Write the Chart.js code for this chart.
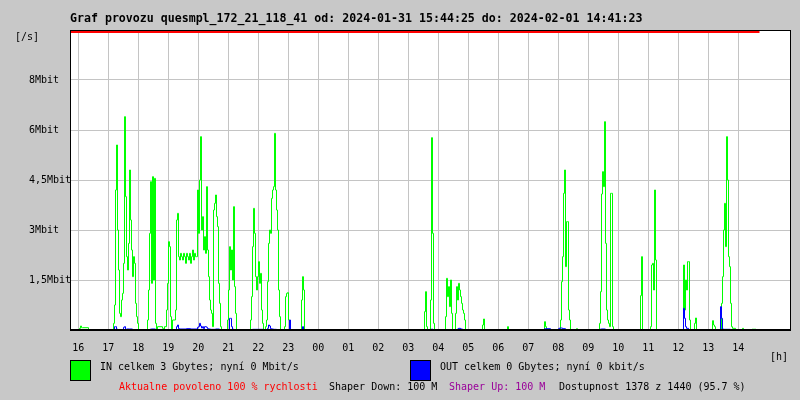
<!DOCTYPE html>
<html lang="cs">
<head>
    <meta charset="UTF-8">
    <title>Graf provozu</title>
    <script src="https://cdn.jsdelivr.net/npm/chart.js"></script>
    <style>
        body { margin: 0; background: #c8c8c8; }
    </style>
</head>
<body>
    <canvas id="traffic-chart" width="800" height="400"></canvas>

    <script>
        // casova osa: minuty od 15:44:25, vzorek 2 minuty
        const hourLabels = ['16', '17', '18', '19', '20', '21', '22', '23', '00', '01', '02', '03',
                            '04', '05', '06', '07', '08', '09', '10', '11', '12', '13', '14'];
        const firstHourMinute = 15.58; // 16:00:00
        const yTickValues = [0, 1.5, 3, 4.5, 6, 7.5, 9];
        const yTickLabels = ['', '1,5Mbit', '3Mbit', '4,5Mbit', '6Mbit', '8Mbit', ''];

        // IN [Mbit/s]
        const inMinutes = [
            0, 18, 20, 22, 24, 36, 38,
            86, 88, 90, 92, 94, 96, 98, 100, 102, 104, 106, 108, 110, 112, 114, 116, 118, 120, 122, 124, 126, 128, 130, 132, 134, 136, 138,
            154, 156, 158, 160, 162, 164, 166, 168, 170, 172, 174,
            184, 186, 188,
            192, 194, 196, 198, 200, 202, 204,
            210, 212, 214, 216, 218, 220, 222, 224, 226, 228, 230, 232, 234, 236, 238, 240, 242, 244, 246, 248, 250, 252,
            254, 256, 258, 260, 262, 264, 266, 268, 270, 272, 274, 276, 278, 280, 282, 284, 286, 288, 290, 292, 294, 296, 298, 300, 302, 304,
            314, 316, 318, 320, 322, 324, 326, 328, 330, 332, 334,
            360, 362, 364, 366, 368, 370, 372, 374, 376, 378, 380, 382, 384, 386, 388,
            390, 392, 394, 396, 398, 400, 402, 404, 406, 408, 410, 412, 414, 416, 418, 420, 422,
            428, 430, 432, 434, 436, 438, 440,
            462, 464, 466, 468, 470,
            708, 710, 712, 714, 716, 720, 722, 724, 726, 728, 730,
            750, 752, 754, 756, 758, 760, 762, 764, 766,
            770, 772, 774, 776, 778, 780, 782, 784, 786, 788, 790, 792,
            824, 826, 828, 830,
            874, 876, 878,
            948, 950, 952, 954,
            980, 982, 984, 986, 988, 990, 992, 994, 996, 998, 1000, 1002,
            1012, 1014, 1016,
            1058, 1060, 1062, 1064, 1066, 1068, 1070, 1072, 1074, 1076, 1078, 1080, 1082, 1084, 1086, 1088,
            1140, 1142, 1144, 1146,
            1160, 1162, 1164, 1166, 1168, 1170, 1172, 1174,
            1226, 1228, 1230, 1232, 1234, 1236, 1238, 1240, 1242,
            1248, 1250, 1252, 1254,
            1284, 1286, 1288, 1290, 1292,
            1302, 1304, 1306, 1308, 1310, 1312, 1314, 1316, 1318, 1320, 1322, 1324, 1330, 1332,
            1344, 1346, 1348,
            1364, 1366, 1368, 1370, 1372, 1378
        ];
        const inMbit = [
            0, 0, 0.05, 0.12, 0.07, 0.07, 0,
            0, 0.2, 0.75, 4.2, 5.55, 3.0, 1.8, 0.5, 0.4, 0.9, 1.1, 2.0, 6.4, 4.0, 2.2, 1.8, 2.6, 4.8, 3.3, 2.4, 1.6, 2.2, 2.0, 0.8, 0.4, 0.2, 0,
            0, 0.3, 1.2, 2.9, 4.45, 1.4, 4.6, 1.5, 4.55, 0.2, 0,
            0.1, 0.05, 0,
            0.1, 0.6, 1.4, 2.65, 2.5, 0.4, 0,
            0.3, 0.6, 3.3, 3.5, 2.2, 2.1, 2.3, 2.2, 2.1, 2.3, 2.2, 2.0, 2.3, 2.2, 2.1, 2.3, 2.0, 2.2, 2.4, 2.1, 2.3, 2.2,
            2.2, 4.2, 2.9, 4.5, 5.8, 3.0, 3.4, 2.4, 2.8, 2.3, 4.3, 2.4, 1.6, 0.9, 0.6, 0.5, 0.1, 3.6, 3.8, 4.05, 3.4, 3.1, 1.4, 0.8, 0.1, 0,
            0, 0.3, 1.2, 2.5, 1.8, 2.4, 1.5, 3.7, 1.3, 0.5, 0,
            0, 0.3, 1.0, 2.5, 3.65, 2.9, 1.6, 1.2, 1.6, 2.05, 1.4, 1.7, 0.6, 0.2, 0,
            0, 0.1, 0.3, 1.45, 2.6, 3.0, 2.9, 3.95, 4.2, 4.3, 5.9, 4.2, 3.6, 3.0, 1.2, 0.4, 0,
            0, 0.1, 1.0, 1.1, 1.12, 0.3, 0,
            0, 0.9, 1.6, 1.2, 0,
            0, 0.55, 1.15, 0.1, 0, 0, 0.9, 5.77, 2.9, 0.2, 0,
            0, 0.4, 1.55, 1.0, 1.3, 0.7, 1.5, 0.5, 0,
            0, 0.5, 1.3, 0.9, 1.4, 1.2, 1.0, 0.8, 0.6, 0.5, 0.3, 0,
            0, 0.15, 0.33, 0,
            0, 0.1, 0,
            0, 0.25, 0.1, 0,
            0, 0.3, 1.45, 2.2, 4.1, 4.8, 1.9, 3.25, 3.25, 0.6, 0.3, 0,
            0, 0.04, 0,
            0, 0.2, 1.15, 4.08, 4.75, 4.3, 6.25, 2.6, 0.6, 0.3, 0.2, 0.1, 4.1, 4.1, 0.1, 0,
            0, 1.03, 2.2, 0,
            0, 0.1, 1.95, 2.0, 1.2, 4.2, 2.1, 0,
            0, 1.95, 0.6, 1.5, 1.2, 2.05, 2.05, 0.3, 0,
            0, 0.2, 0.36, 0,
            0, 0.28, 0.15, 0.1, 0,
            0, 0.8, 1.6, 3.0, 3.8, 2.5, 5.8, 4.5, 2.2, 1.9, 0.8, 0.1, 0.05, 0,
            0, 0.05, 0,
            0, 0.03, 0, 0.03, 0, 0
        ];

        // OUT [Mbit/s]
        const outMinutes = [
            0, 88, 90, 92, 94, 96, 106, 108, 110, 112, 118, 124, 126,
            160, 162, 170, 172,
            212, 214, 216, 218, 232, 240, 254, 256, 258, 260, 262, 264, 266, 268, 272, 274, 276, 280, 290, 298, 304,
            318, 320, 322, 324, 326, 332,
            364, 366, 386, 388,
            394, 396, 398, 400, 402, 406, 412, 416,
            438, 440, 442, 464, 466, 468,
            722, 724, 726, 774, 776, 780, 784, 786,
            948, 950, 960, 964, 976, 978, 984, 990, 994,
            1060, 1062, 1070, 1072,
            1226, 1228, 1230, 1232, 1236, 1238,
            1300, 1302, 1304, 1306, 1320, 1322, 1378
        ];
        const outMbit = [
            0, 0, 0.1, 0.1, 0.03, 0, 0, 0.08, 0.1, 0, 0.03, 0.03, 0,
            0, 0.03, 0.03, 0,
            0, 0.1, 0.15, 0.04, 0.03, 0.04, 0.03, 0.08, 0.1, 0.2, 0.12, 0.06, 0.1, 0.04, 0.1, 0.08, 0.04, 0.03, 0.02, 0.03, 0,
            0, 0.35, 0.35, 0.1, 0.03, 0,
            0, 0.02, 0.02, 0,
            0, 0.05, 0.15, 0.12, 0.04, 0.03, 0.02, 0,
            0, 0.3, 0, 0, 0.1, 0,
            0, 0.03, 0, 0, 0.03, 0.05, 0.03, 0,
            0, 0.04, 0.04, 0, 0, 0.04, 0.06, 0.04, 0,
            0, 0.03, 0.03, 0,
            0, 0.65, 0.35, 0.1, 0.05, 0,
            0, 0.7, 0.35, 0.03, 0.02, 0, 0
        ];

        // povolena rychlost (mimo graf, kresli se na horni hrane)
        const limitMinutes = [0, 1378];
        const limitMbit = [9, 9];

        const mono = '"DejaVu Sans Mono", "Liberation Mono", monospace';

        function toPoints(xs, ys) {
            return xs.map((x, i) => ({ x: x, y: ys[i] }));
        }

        // pozadi, ramecek a texty kolem grafu
        const framePlugin = {
            id: 'frame',
            beforeDraw(chart) {
                const { ctx, chartArea: a } = chart;
                ctx.save();
                ctx.fillStyle = '#c8c8c8';
                ctx.fillRect(0, 0, chart.width, chart.height);
                ctx.fillStyle = '#ffffff';
                ctx.fillRect(a.left, a.top, a.right - a.left, a.bottom - a.top);
                ctx.restore();
            },
            afterDatasetsDraw(chart) {
                const { ctx, chartArea: a } = chart;
                ctx.save();
                ctx.fillStyle = '#000000';
                ctx.fillRect(a.left, a.top, a.right - a.left + 1, 1);
                ctx.fillRect(a.left, a.bottom - 1, a.right - a.left + 1, 2);
                ctx.fillRect(a.left, a.top, 1, a.bottom - a.top + 1);
                ctx.fillRect(a.right, a.top, 1, a.bottom - a.top + 1);
                ctx.restore();
            },
            afterDraw(chart) {
                const ctx = chart.ctx;
                ctx.save();
                ctx.textBaseline = 'middle';
                ctx.textAlign = 'left';

                ctx.fillStyle = '#000000';
                ctx.font = 'bold 11.6px ' + mono;
                ctx.fillText('Graf provozu quesmpl_172_21_118_41 od: 2024-01-31 15:44:25 do: 2024-02-01 14:41:23', 70, 19);

                ctx.font = '10px ' + mono;
                ctx.fillText('[/s]', 15, 37);
                ctx.fillText('[h]', 770, 357);

                ctx.fillStyle = '#00ff00';
                ctx.fillRect(70, 360, 21, 21);
                ctx.fillStyle = '#0000ff';
                ctx.fillRect(410, 360, 21, 21);
                ctx.strokeStyle = '#000000';
                ctx.lineWidth = 1;
                ctx.strokeRect(70.5, 360.5, 20, 20);
                ctx.strokeRect(410.5, 360.5, 20, 20);

                ctx.fillStyle = '#000000';
                ctx.fillText('IN celkem 3 Gbytes; nyní 0 Mbit/s', 100, 367);
                ctx.fillText('OUT celkem 0 Gbytes; nyní 0 kbit/s', 440, 367);

                ctx.fillStyle = '#ff0000';
                ctx.fillText('Aktualne povoleno 100 % rychlosti', 119, 387);
                ctx.fillStyle = '#000000';
                ctx.fillText('Shaper Down: 100 M', 329, 387);
                ctx.fillStyle = '#990099';
                ctx.fillText('Shaper Up: 100 M', 449, 387);
                ctx.fillStyle = '#000000';
                ctx.fillText('Dostupnost 1378 z 1440 (95.7 %)', 559, 387);
                ctx.restore();
            }
        };

        const ctx = document.getElementById('traffic-chart').getContext('2d');
        new Chart(ctx, {
            type: 'line',
            data: {
                datasets: [{
                    label: 'OUT',
                    data: toPoints(outMinutes, outMbit),
                    borderColor: '#0000ff',
                    borderWidth: 1,
                    stepped: 'after',
                    pointRadius: 0,
                    order: 0
                }, {
                    label: 'IN',
                    data: toPoints(inMinutes, inMbit),
                    borderColor: '#00ff00',
                    borderWidth: 1,
                    stepped: 'after',
                    pointRadius: 0,
                    order: 1
                }, {
                    label: 'limit',
                    data: toPoints(limitMinutes, limitMbit),
                    borderColor: '#ff0000',
                    borderWidth: 6,
                    pointRadius: 0,
                    order: 2
                }]
            },
            options: {
                responsive: false,
                animation: false,
                events: [],
                layout: { padding: { left: 29, top: 30, right: 10, bottom: 0 } },
                plugins: {
                    legend: { display: false },
                    tooltip: { enabled: false }
                },
                scales: {
                    x: {
                        type: 'linear',
                        min: -1,
                        max: 1439,
                        afterBuildTicks: (scale) => {
                            scale.ticks = hourLabels.map((h, i) => ({ value: firstHourMinute + i * 60 }));
                        },
                        afterFit: (scale) => { scale.height = 70; },
                        border: { display: false },
                        grid: { color: '#c4c4c4', drawTicks: false },
                        ticks: {
                            autoSkip: false,
                            maxRotation: 0,
                            padding: 12,
                            color: '#000000',
                            font: { family: mono, size: 10 },
                            callback: (value, index) => hourLabels[index]
                        }
                    },
                    y: {
                        min: 0,
                        max: 9,
                        afterBuildTicks: (scale) => {
                            scale.ticks = yTickValues.map(v => ({ value: v }));
                        },
                        afterFit: (scale) => { scale.width = 41; },
                        border: { display: false },
                        grid: { color: '#c4c4c4', drawTicks: false },
                        ticks: {
                            crossAlign: 'far',
                            color: '#000000',
                            font: { family: mono, size: 10 },
                            callback: (value, index) => yTickLabels[index]
                        }
                    }
                }
            },
            plugins: [framePlugin]
        });
    </script>
</body>
</html>
